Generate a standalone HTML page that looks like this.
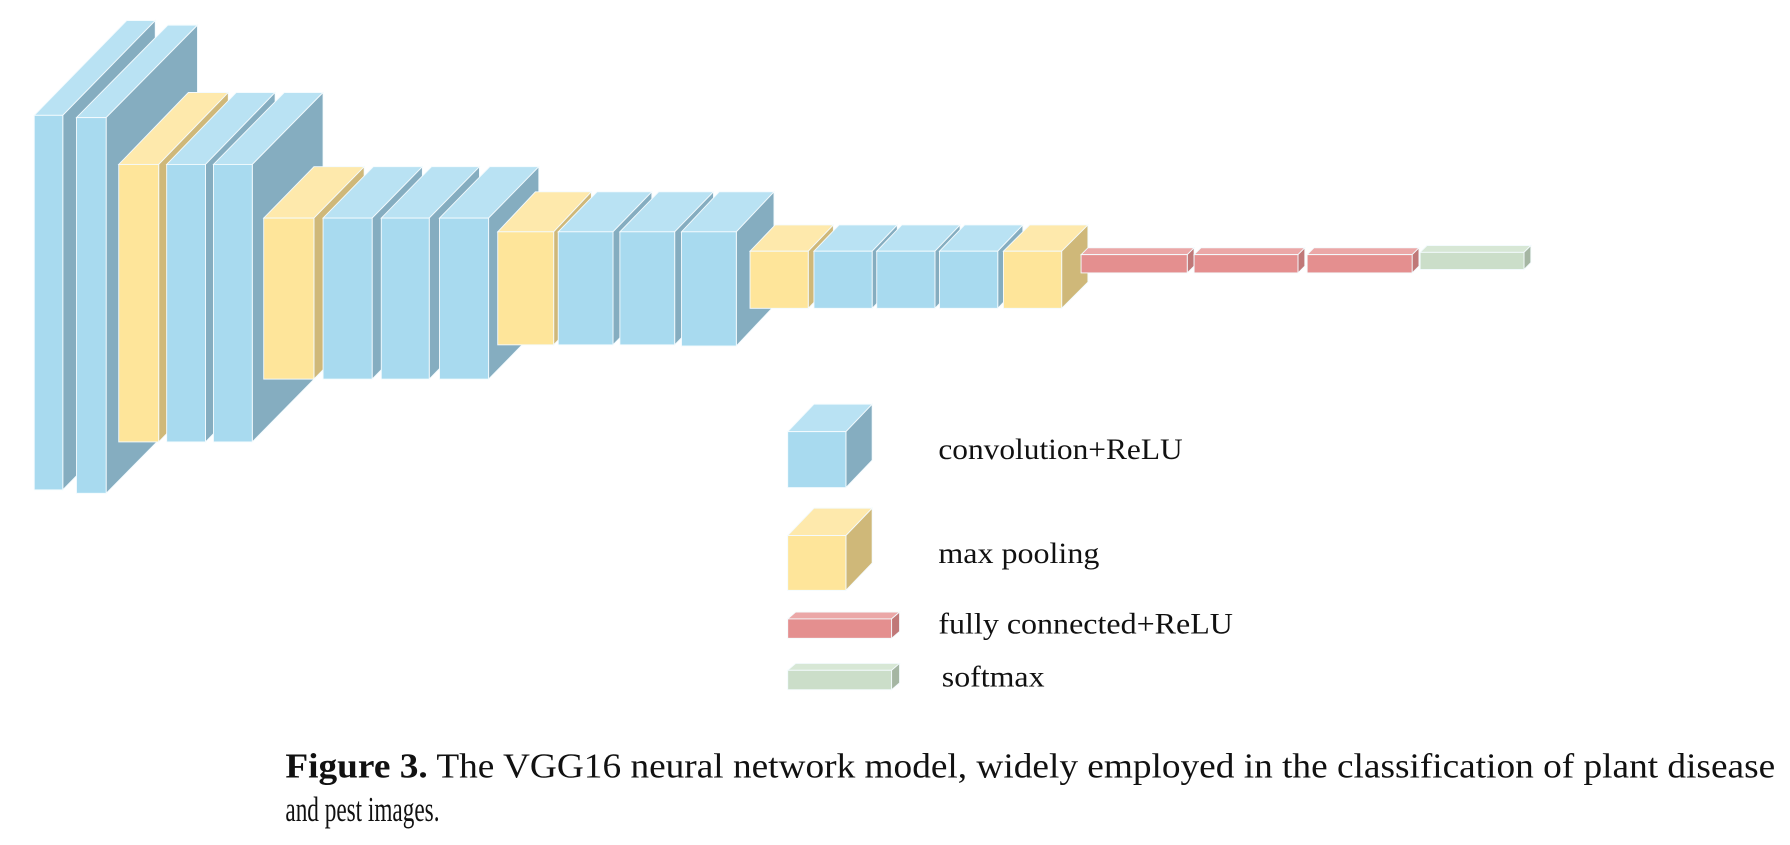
<!DOCTYPE html>
<html><head><meta charset="utf-8"><style>
html,body{margin:0;padding:0;background:#fff;width:1790px;height:845px;overflow:hidden}
svg{display:block}
polygon,rect{stroke:#f4fbfe;stroke-width:0.8}
.b .f{fill:#a8daef}.b .t{fill:#b9e2f3}.b .s{fill:#85adc0}
.y .f{fill:#fee59a}.y .t{fill:#fee9ac}.y .s{fill:#cfb879}
.r .f{fill:#e48f8f}.r .t{fill:#eba7a7}.r .s{fill:#c07878}
.g .f{fill:#cbdec9}.g .t{fill:#d7e7d5}.g .s{fill:#a5b6a3}
.lt{font-family:"Liberation Serif",serif;font-size:26px;fill:#111}
.cap{font-family:"Liberation Serif",serif;font-size:31px;fill:#111}
</style></head><body>
<svg width="1790" height="845" viewBox="0 0 1568 740" preserveAspectRatio="none">
<g class="b"><polygon class="t" points="30,101 111,18 136,18 55,101"/><polygon class="s" points="55,101 136,18 136,346 55,429"/><rect class="f" x="30" y="101" width="25" height="328"/></g>
<g class="b"><polygon class="t" points="67,103 147,22 173,22 93,103"/><polygon class="s" points="93,103 173,22 173,351 93,432"/><rect class="f" x="67" y="103" width="26" height="329"/></g>
<g class="y"><polygon class="t" points="104,144 165,81 200,81 139,144"/><polygon class="s" points="139,144 200,81 200,324 139,387"/><rect class="f" x="104" y="144" width="35" height="243"/></g>
<g class="b"><polygon class="t" points="146,144 207,81 241,81 180,144"/><polygon class="s" points="180,144 241,81 241,324 180,387"/><rect class="f" x="146" y="144" width="34" height="243"/></g>
<g class="b"><polygon class="t" points="187,144 249,81 283,81 221,144"/><polygon class="s" points="221,144 283,81 283,324 221,387"/><rect class="f" x="187" y="144" width="34" height="243"/></g>
<g class="y"><polygon class="t" points="231,191 275,146 319,146 275,191"/><polygon class="s" points="275,191 319,146 319,287 275,332"/><rect class="f" x="231" y="191" width="44" height="141"/></g>
<g class="b"><polygon class="t" points="283,191 327,146 370,146 326,191"/><polygon class="s" points="326,191 370,146 370,287 326,332"/><rect class="f" x="283" y="191" width="43" height="141"/></g>
<g class="b"><polygon class="t" points="334,191 378,146 420,146 376,191"/><polygon class="s" points="376,191 420,146 420,287 376,332"/><rect class="f" x="334" y="191" width="42" height="141"/></g>
<g class="b"><polygon class="t" points="385,191 429,146 472,146 428,191"/><polygon class="s" points="428,191 472,146 472,287 428,332"/><rect class="f" x="385" y="191" width="43" height="141"/></g>
<g class="y"><polygon class="t" points="436,203 469,168 518,168 485,203"/><polygon class="s" points="485,203 518,168 518,267 485,302"/><rect class="f" x="436" y="203" width="49" height="99"/></g>
<g class="b"><polygon class="t" points="489,203 523,168 571,168 537,203"/><polygon class="s" points="537,203 571,168 571,267 537,302"/><rect class="f" x="489" y="203" width="48" height="99"/></g>
<g class="b"><polygon class="t" points="543,203 577,168 625,168 591,203"/><polygon class="s" points="591,203 625,168 625,267 591,302"/><rect class="f" x="543" y="203" width="48" height="99"/></g>
<g class="b"><polygon class="t" points="597,203 630,168 678,168 645,203"/><polygon class="s" points="645,203 678,168 678,268 645,303"/><rect class="f" x="597" y="203" width="48" height="100"/></g>
<g class="y"><polygon class="t" points="657,220 679,197 730,197 708,220"/><polygon class="s" points="708,220 730,197 730,247 708,270"/><rect class="f" x="657" y="220" width="51" height="50"/></g>
<g class="b"><polygon class="t" points="713,220 735,197 786,197 764,220"/><polygon class="s" points="764,220 786,197 786,247 764,270"/><rect class="f" x="713" y="220" width="51" height="50"/></g>
<g class="b"><polygon class="t" points="768,220 790,197 841,197 819,220"/><polygon class="s" points="819,220 841,197 841,247 819,270"/><rect class="f" x="768" y="220" width="51" height="50"/></g>
<g class="b"><polygon class="t" points="823,220 845,197 896,197 874,220"/><polygon class="s" points="874,220 896,197 896,247 874,270"/><rect class="f" x="823" y="220" width="51" height="50"/></g>
<g class="y"><polygon class="t" points="879,220 902,197 953,197 930,220"/><polygon class="s" points="930,220 953,197 953,247 930,270"/><rect class="f" x="879" y="220" width="51" height="50"/></g>
<g class="r"><polygon class="t" points="947,223 953,217 1046,217 1040,223"/><polygon class="s" points="1040,223 1046,217 1046,233 1040,239"/><rect class="f" x="947" y="223" width="93" height="16"/></g>
<g class="r"><polygon class="t" points="1046,223 1052,217 1143,217 1137,223"/><polygon class="s" points="1137,223 1143,217 1143,233 1137,239"/><rect class="f" x="1046" y="223" width="91" height="16"/></g>
<g class="r"><polygon class="t" points="1145,223 1151,217 1243,217 1237,223"/><polygon class="s" points="1237,223 1243,217 1243,233 1237,239"/><rect class="f" x="1145" y="223" width="92" height="16"/></g>
<g class="g"><polygon class="t" points="1244,221 1250,215 1341,215 1335,221"/><polygon class="s" points="1335,221 1341,215 1341,230 1335,236"/><rect class="f" x="1244" y="221" width="91" height="15"/></g>

<g class="b"><polygon class="t" points="690,378 713,354 764,354 741,378"/><polygon class="s" points="741,378 764,354 764,403 741,427"/><rect class="f" x="690" y="378" width="51" height="49"/></g>
<g class="y"><polygon class="t" points="690,469 713,445 764,445 741,469"/><polygon class="s" points="741,469 764,445 764,493 741,517"/><rect class="f" x="690" y="469" width="51" height="48"/></g>
<g class="r"><polygon class="t" points="690,542 697,536 788,536 781,542"/><polygon class="s" points="781,542 788,536 788,553 781,559"/><rect class="f" x="690" y="542" width="91" height="17"/></g>
<g class="g"><polygon class="t" points="690,587 697,581 788,581 781,587"/><polygon class="s" points="781,587 788,581 788,598 781,604"/><rect class="f" x="690" y="587" width="91" height="17"/></g>

<text class="lt" x="822" y="402" textLength="214" lengthAdjust="spacingAndGlyphs">convolution+ReLU</text>
<text class="lt" x="822" y="493" textLength="141" lengthAdjust="spacingAndGlyphs">max pooling</text>
<text class="lt" x="822" y="555" textLength="258" lengthAdjust="spacingAndGlyphs">fully connected+ReLU</text>
<text class="lt" x="825" y="601" textLength="90" lengthAdjust="spacingAndGlyphs">softmax</text>

<text class="cap" x="250" y="681" textLength="1305" lengthAdjust="spacingAndGlyphs"><tspan font-weight="bold">Figure 3.</tspan> The VGG16 neural network model, widely employed in the classification of plant disease</text>
<text class="cap" x="250" y="719" textLength="135" lengthAdjust="spacingAndGlyphs">and pest images.</text>
</svg>
</body></html>
